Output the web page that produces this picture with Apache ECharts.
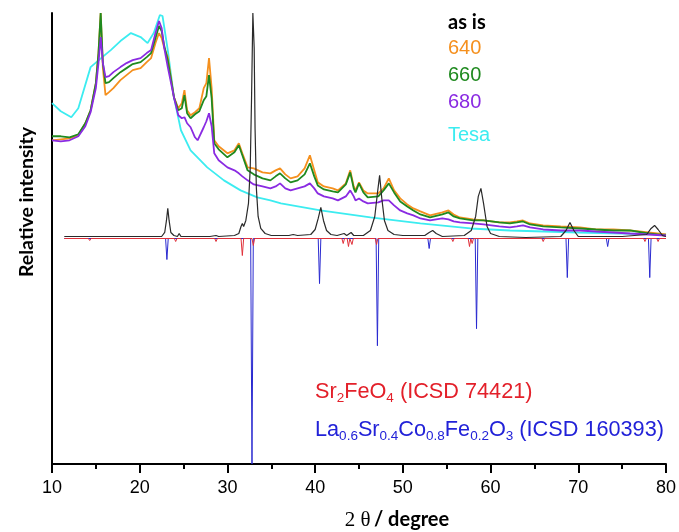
<!DOCTYPE html>
<html>
<head>
<meta charset="utf-8">
<script src="https://cdn.jsdelivr.net/npm/echarts@6/dist/echarts.min.js"></script>
<style>
  html, body { margin: 0; padding: 0; background: #fff; }
  #main { width: 679px; height: 532px; }
</style>
</head>
<body>
<div id="main"></div>
<script>
// 2theta (degree) vs relative intensity (arbitrary units, 0 = reference baseline)
const tesa = [[10,135],[11,127],[12.2,121],[13,130],[14.4,171],[15.6,180],[16.7,188],[17.8,197],[19,205],[20.1,201],[20.9,195],[21.6,205],[22.3,223],[22.6,222],[23.2,188],[23.9,141],[24.7,108],[25.8,88],[27.7,71],[29.6,58],[31.5,48],[33.4,41],[34.9,38],[36.1,35],[40.6,28],[46.3,21],[52,15],[57.7,10],[62.2,8],[70,6],[80,4]]

const s640 = [[10,98],[11,99],[12,100],[13,103],[13.8,115],[14.4,128],[15,155],[15.3,185],[15.55,225],[15.8,170],[16.1,143],[16.5,146],[17,150],[17.8,158],[18.5,163],[19.2,168],[20.1,170],[20.8,176],[21.3,180],[21.8,195],[22.2,205],[22.5,200],[22.8,190],[23.2,181],[23.9,141],[24.4,130],[24.8,135],[25.1,148],[25.4,128],[25.8,123],[26.3,126],[26.8,130],[27.3,150],[27.6,155],[27.9,180],[28.2,150],[28.5,98],[29,92],[30,85],[30.8,88],[31.3,95],[31.7,85],[32.3,71],[33,70],[34,66],[34.9,65],[35.5,68],[36,70],[36.6,64],[37.2,60],[38,62],[38.8,70],[39.4,83],[39.9,68],[40.3,56],[41,52],[42,50],[42.6,48],[43.5,55],[44,68],[44.4,52],[44.6,48],[45,56],[45.5,48],[46,45],[47.2,45],[47.8,50],[48.4,60],[49,48],[49.7,40],[50.5,34],[51.2,30],[52,27],[53.1,23],[54.5,26],[55.2,28],[55.8,24],[56.5,21],[58,19],[59.2,18],[61,16],[62.2,16],[63,17],[63.7,18],[64.5,15],[66,13],[68,12],[70.2,11],[72,9],[74,9],[75.9,8],[78,6],[80,4]]

const s660 = [[10,102],[11,102],[12,101],[13,104],[13.8,115],[14.4,128],[15,155],[15.3,185],[15.55,225],[15.8,175],[16.1,155],[16.5,156],[17,160],[17.8,166],[18.5,170],[19.2,174],[20.1,176],[20.8,181],[21.3,185],[21.8,200],[22.2,212],[22.5,207],[22.8,192],[23.2,178],[23.9,141],[24.4,128],[24.8,130],[25.1,143],[25.4,125],[25.8,120],[26.3,124],[26.8,127],[27.3,138],[27.6,142],[27.9,163],[28.2,140],[28.5,95],[29,89],[30,81],[30.8,86],[31.3,93],[31.7,83],[32.3,68],[33,64],[34,60],[34.9,58],[35.5,62],[36,65],[36.6,60],[37.2,56],[38,58],[38.8,64],[39.4,75],[39.9,62],[40.3,53],[41,49],[42,47],[42.6,46],[43.5,54],[44,66],[44.4,50],[44.6,46],[45,55],[45.5,46],[46,41],[47.2,42],[47.8,48],[48.4,55],[49,46],[49.7,37],[50.5,32],[51.2,28],[52,24],[53.1,21],[54.5,24],[55.2,26],[55.8,22],[56.5,20],[58,18],[59.2,18],[61,16],[62.2,15],[63,16],[63.7,17],[64.5,14],[66,12],[68,11],[70.2,10],[72,9],[74,8],[75.9,8],[78,5],[80,3]]

const s680 = [[10,98],[11,97],[12,98],[13,102],[13.8,112],[14.4,126],[15,150],[15.3,175],[15.55,201],[15.8,175],[16.1,161],[16.5,162],[17,166],[17.8,171],[18.5,175],[19.2,178],[20.1,180],[20.8,185],[21.3,188],[21.8,205],[22.2,217],[22.5,210],[22.8,190],[23.2,171],[23.9,141],[24.4,123],[24.8,120],[25.1,121],[25.4,115],[25.8,111],[26.3,101],[26.6,98],[27.3,111],[27.6,117],[27.9,125],[28.2,112],[28.5,85],[29,78],[30,71],[30.8,68],[31.3,65],[31.7,62],[32.3,58],[33,54],[34,52],[34.9,50],[35.5,52],[36,55],[36.6,50],[37.2,48],[38,50],[38.8,52],[39.4,55],[39.9,50],[40.3,45],[41,42],[42,40],[42.6,38],[43.5,42],[44,48],[44.4,42],[44.6,38],[45,40],[45.5,37],[46,35],[47.2,36],[47.8,38],[48.4,38],[49,33],[49.7,28],[50.5,25],[51.2,23],[52,20],[53.1,18],[54.5,20],[55.2,19],[55.8,17],[56.5,16],[58,15],[59.2,14],[61,12],[62.2,11],[63,12],[63.7,13],[64.5,11],[66,9],[68,8],[70.2,8],[72,7],[74,6],[75.9,5],[78,4],[80,3]]

const asIs = [[11.4,2],[14,2],[17,2],[20,2],[22.5,2],[22.85,6],[23.05,18],[23.2,30],[23.35,18],[23.55,6],[23.9,3],[24.3,2],[24.5,5],[24.7,2],[28,2],[28.7,3],[29,2],[30.8,3],[31.3,5],[31.55,12],[31.7,15],[31.85,12],[32.1,18],[32.4,35],[32.6,70],[32.75,140],[32.9,225],[33.05,190],[33.15,110],[33.3,50],[33.5,22],[33.8,10],[34.3,5],[35,3],[37,3],[37.5,4],[38,3],[39.5,4],[40,9],[40.35,20],[40.65,31],[40.95,18],[41.3,8],[41.8,4],[42.5,3],[43.3,5],[43.6,3],[44.1,6],[44.4,3],[45.5,3],[46.3,8],[46.8,22],[47.1,45],[47.35,63],[47.6,40],[47.9,18],[48.3,8],[49,4],[50,3],[52.5,3],[53,6],[53.4,8],[53.8,5],[54.5,2],[57,3],[57.8,8],[58.3,22],[58.6,42],[58.9,50],[59.2,35],[59.6,12],[60,5],[61,2],[64,1],[68,2],[68.6,8],[69.05,16],[69.5,8],[70,2],[75,2],[77.8,4],[78.3,10],[78.7,13],[79.1,9],[79.6,3],[80,2]]

// reference patterns (peak position, depth below baseline)
const lscfPos = [23.1, 32.8, 40.5, 47.1, 53.0, 58.4, 68.75, 73.35, 78.15]
const lscfDepth = [21, 225, 45, 107, 10, 90, 39, 8, 39]
const sfoPos = [14.3, 24.1, 28.7, 31.7, 32.95, 43.2, 43.8, 44.2, 47.0, 55.7, 57.6, 57.9, 66.0, 77.6, 79.1]
const sfoDepth = [2, 3, 3, 17, 7, 5, 8, 6, 6, 3, 8, 5, 3, 3, 3]

const xTicks = [10, 20, 30, 40, 50, 60, 70, 80]

function sticks (pos, depth) {
  const d = [[11.4, 0]]
  pos.forEach((p, i) => {
    d.push([p - 0.15, 0], [p, -depth[i]], [p + 0.15, 0])
  })
  d.push([80, 0])
  return d
}

function line (name, data, color, width) {
  return {
    name: name,
    type: 'line',
    data: data,
    showSymbol: false,
    symbol: 'none',
    lineStyle: { color: color, width: width },
    silent: true
  }
}

const chart = echarts.init(document.getElementById('main'))
const option = {
  animation: false,
  grid: { left: 52, right: 13, top: 13, bottom: 68 },
  xAxis: {
    type: 'value',
    min: xTicks[0],
    max: xTicks[xTicks.length - 1],
    interval: 10,
    axisLine: { onZero: false, lineStyle: { color: '#000', width: 2 } },
    axisTick: { inside: false, length: 9, lineStyle: { color: '#000', width: 2 } },
    minorTick: { show: true, splitNumber: 2, length: 5, lineStyle: { color: '#000', width: 2 } },
    splitLine: { show: false },
    axisLabel: { color: '#000', fontSize: 18, fontFamily: 'Liberation Sans', margin: 15 }
  },
  yAxis: {
    type: 'value',
    min: -225,
    max: 225,
    axisLine: { show: true, onZero: false, lineStyle: { color: '#000', width: 2 } },
    axisTick: { show: false },
    axisLabel: { show: false },
    splitLine: { show: false }
  },
  series: [
    line('Tesa', tesa, '#3cecf0', 1.8),
    line('640', s640, '#f5901e', 1.8),
    line('660', s660, '#1f8a1f', 1.8),
    line('680', s680, '#8a2be2', 1.8),
    line('as is', asIs, '#2a2a2a', 1.2),
    line('LSCF', sticks(lscfPos, lscfDepth), '#2a2ad0', 1),
    line('Sr2FeO4', sticks(sfoPos, sfoDepth), '#e0303a', 1)
  ],
  graphic: [
    { type: 'text', x: 448, y: 23, style: { text: 'as is', fill: '#000', font: 'bold 20px Lato', textVerticalAlign: 'middle' } },
    { type: 'text', x: 448, y: 48, style: { text: '640', fill: '#f5901e', font: '20px Liberation Sans', textVerticalAlign: 'middle' } },
    { type: 'text', x: 448, y: 75, style: { text: '660', fill: '#1f8a1f', font: '20px Liberation Sans', textVerticalAlign: 'middle' } },
    { type: 'text', x: 448, y: 102, style: { text: '680', fill: '#8a2be2', font: '20px Liberation Sans', textVerticalAlign: 'middle' } },
    { type: 'text', x: 448, y: 135, style: { text: 'Tesa', fill: '#3cecf0', font: '20px Liberation Sans', textVerticalAlign: 'middle' } },
    {
      type: 'text', x: 315, y: 392,
      style: {
        text: 'Sr{s|2}FeO{s|4} (ICSD 74421)',
        fill: '#e3202a', fontSize: 21.7, fontFamily: 'Liberation Sans', verticalAlign: 'middle',
        rich: { s: { fontSize: 13.5, fontFamily: 'Liberation Sans', fill: '#e3202a', padding: [12, 0, 0, 0] } }
      }
    },
    {
      type: 'text', x: 315, y: 430,
      style: {
        text: 'La{s|0.6}Sr{s|0.4}Co{s|0.8}Fe{s|0.2}O{s|3} (ICSD 160393)',
        fill: '#2222d8', fontSize: 21.7, fontFamily: 'Liberation Sans', verticalAlign: 'middle',
        rich: { s: { fontSize: 13.5, fontFamily: 'Liberation Sans', fill: '#2222d8', padding: [12, 0, 0, 0] } }
      }
    },
    {
      type: 'text', x: 27, y: 202, rotation: Math.PI / 2,
      style: { text: 'Relative intensity', fill: '#000', font: 'bold 19.5px Lato', align: 'center', verticalAlign: 'middle' }
    },
    {
      type: 'text', x: 397, y: 520,
      style: {
        text: '{n|2 θ} {b|/ degree}',
        align: 'center', verticalAlign: 'middle',
        rich: {
          n: { fontSize: 21, fontFamily: 'Liberation Serif', fill: '#000' },
          b: { fontSize: 20, fontFamily: 'Lato', fontWeight: 'bold', fill: '#000' }
        }
      }
    }
  ]
}
chart.setOption(option)
</script>
</body>
</html>
